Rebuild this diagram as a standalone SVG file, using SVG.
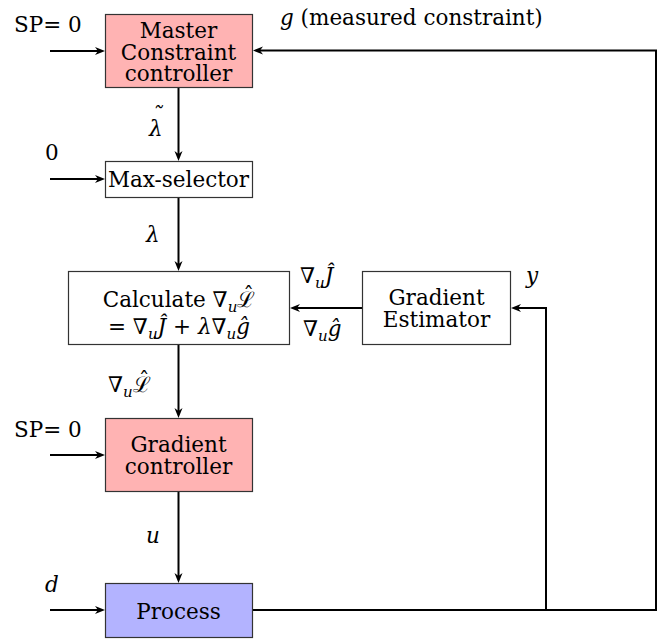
<svg xmlns="http://www.w3.org/2000/svg" width="664" height="640" viewBox="0 0 664 640">
<style>
text{font-family:'DejaVu Serif',serif;font-size:21.5px;fill:#000}
.c{text-anchor:middle}
.i{font-style:italic}
.s{font-size:15px;font-style:italic}
.box{stroke:#333;stroke-width:1.2}
.red{fill:#ffb3b3}
.blue{fill:#b3b3ff}
.white{fill:#fff}
.ln{fill:none;stroke:#000;stroke-width:2}
</style>
<defs>
<marker id="ar" viewBox="0 0 10 10" refX="6" refY="5" markerWidth="10" markerHeight="10" markerUnits="userSpaceOnUse" orient="auto">
<path d="M0,1 L10,5 L0,9 L3,5 z" fill="#000"/>
</marker>
</defs>

<g id="connectors">
<path class="ln" d="M50,51 H101" marker-end="url(#ar)"/>
<path class="ln" d="M50,179 H101" marker-end="url(#ar)"/>
<path class="ln" d="M50,455 H101" marker-end="url(#ar)"/>
<path class="ln" d="M50,610 H101" marker-end="url(#ar)"/>
<path class="ln" d="M178.5,88 V157" marker-end="url(#ar)"/>
<path class="ln" d="M178.5,198 V267" marker-end="url(#ar)"/>
<path class="ln" d="M178.5,345 V414" marker-end="url(#ar)"/>
<path class="ln" d="M178.5,492 V579" marker-end="url(#ar)"/>
<path class="ln" d="M253,610 H656 V50.5 H257" marker-end="url(#ar)"/>
<path class="ln" d="M546,610 V308 H515" marker-end="url(#ar)"/>
<path class="ln" d="M362,308 H294" marker-end="url(#ar)"/>
</g>

<g id="master">
<rect class="box red" x="105.5" y="14.5" width="147" height="73"/>
<text class="c" x="178.5" y="38">Master</text>
<text class="c" x="178.5" y="59.5">Constraint</text>
<text class="c" x="178.5" y="81">controller</text>
</g>

<g id="maxselector">
<rect class="box white" x="105.5" y="161.5" width="147" height="36"/>
<text class="c" x="178.5" y="187">Max-selector</text>
</g>

<g id="calculate">
<rect class="box white" x="68.5" y="271.5" width="221" height="73"/>
<text class="c" x="179" y="307">Calculate ∇<tspan class="s" dy="5">u</tspan><tspan dy="-5">ℒ</tspan><tspan dx="-12" dy="-4">ˆ</tspan><tspan dy="4"> </tspan></text>
<text class="c" x="179" y="334">= ∇<tspan class="s" dy="5">u</tspan><tspan class="i" dy="-5">Ĵ</tspan> + <tspan class="i">λ</tspan>∇<tspan class="s" dy="5">u</tspan><tspan class="i" dy="-5">ĝ</tspan></text>
</g>

<g id="estimator">
<rect class="box white" x="362.5" y="271.5" width="148" height="73"/>
<text class="c" x="436.5" y="305">Gradient</text>
<text class="c" x="436.5" y="327">Estimator</text>
</g>

<g id="gradientcontroller">
<rect class="box red" x="105.5" y="418.5" width="147" height="73"/>
<text class="c" x="178.5" y="452">Gradient</text>
<text class="c" x="178.5" y="474">controller</text>
</g>

<g id="process">
<rect class="box blue" x="105.5" y="583.5" width="147" height="54"/>
<text class="c" x="178.5" y="619">Process</text>
</g>

<g id="labels">
<text x="14" y="32">SP= 0</text>
<text x="280" y="25"><tspan class="i">g</tspan> (measured constraint)</text>
<text class="i" x="149" y="136">λ<tspan dx="-11" dy="-13">˜</tspan></text>
<text x="45" y="160">0</text>
<text class="i" x="146" y="242">λ</text>
<text x="300" y="283">∇<tspan class="s" dy="5">u</tspan><tspan class="i" dy="-5">Ĵ</tspan></text>
<text x="303" y="336">∇<tspan class="s" dy="5">u</tspan><tspan class="i" dy="-5">ĝ</tspan></text>
<text class="i" x="526" y="283">y</text>
<text x="108" y="392">∇<tspan class="s" dy="5">u</tspan><tspan dy="-5">ℒ</tspan><tspan dx="-12" dy="-4">ˆ</tspan></text>
<text x="14" y="437">SP= 0</text>
<text class="i" x="146" y="543">u</text>
<text class="i" x="45" y="592">d</text>
</g>
</svg>
